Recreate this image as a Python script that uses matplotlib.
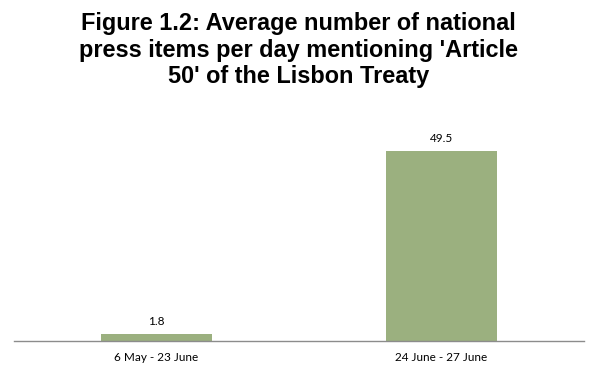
import matplotlib
matplotlib.use("Agg")
import matplotlib.pyplot as plt

# Data
categories = ["6 May - 23 June", "24 June - 27 June"]
values = [1.8, 49.5]
title = "Figure 1.2: Average number of national\npress items per day mentioning 'Article\n50' of the Lisbon Treaty"

fig = plt.figure(figsize=(5.97, 3.74), dpi=100)
ax = fig.add_axes([14 / 597, 33 / 374, 570 / 597, 230 / 374])

x = range(len(categories))
bars = ax.bar(x, values, width=0.39, color="#9bb07f")
ax.set_xlim(-0.5, len(categories) - 0.5)
ax.set_ylim(0, 60)

for b, v in zip(bars, values):
    ax.annotate(f"{v:.1f}", (b.get_x() + b.get_width() / 2, v),
                xytext=(0, 5), textcoords="offset points",
                ha="center", va="bottom", fontsize=8.5, family="Lato")

ax.set_xticks(list(x))
ax.set_xticklabels(categories, fontsize=8.5, family="Lato")
ax.tick_params(axis="x", length=0, pad=8)
ax.set_yticks([])
for s in ["top", "left", "right"]:
    ax.spines[s].set_visible(False)
ax.spines["bottom"].set_color("#8c8c8c")
ax.spines["bottom"].set_linewidth(1)

fig.text(0.5, 0.968, title, ha="center", va="top", fontsize=16.9,
         fontweight="bold", family="Liberation Sans", linespacing=1.2)

fig.savefig("out.png", dpi=100)
